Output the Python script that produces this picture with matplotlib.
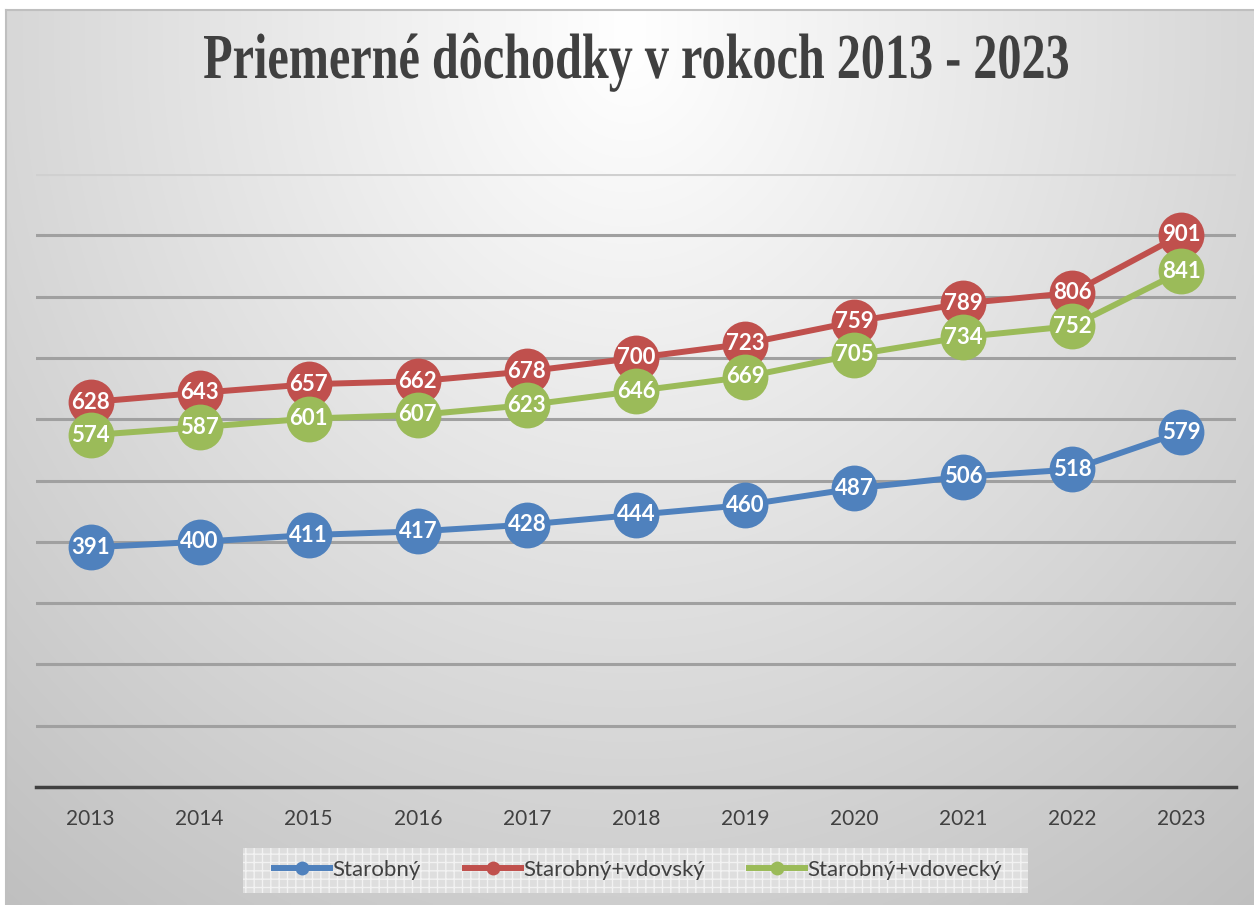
import numpy as np
import matplotlib
matplotlib.use("Agg")
import matplotlib.pyplot as plt
from matplotlib.lines import Line2D
from matplotlib.textpath import TextPath
from matplotlib.font_manager import FontProperties
from matplotlib.patches import PathPatch, Rectangle
from matplotlib.transforms import Affine2D, IdentityTransform

years = ["2013", "2014", "2015", "2016", "2017", "2018", "2019", "2020", "2021", "2022", "2023"]
starobny = [391, 400, 411, 417, 428, 444, 460, 487, 506, 518, 579]
vdovsky = [628, 643, 657, 662, 678, 700, 723, 759, 789, 806, 901]
vdovecky = [574, 587, 601, 607, 623, 646, 669, 705, 734, 752, 841]
series_names = ["Starobný", "Starobný+vdovský", "Starobný+vdovecký"]
title = "Priemerné dôchodky v rokoch 2013 - 2023"

colors = ["#4f81bd", "#c0504d", "#9bbb59"]

W, H = 1254, 905
fig = plt.figure(figsize=(W / 100, H / 100), dpi=100)
fig.patch.set_facecolor("white")

# background gradient area
bx0, by0 = 6, 10
bg = fig.add_axes([bx0 / W, 0, 1 - bx0 / W, 1 - by0 / H])
ny, nx = 300, 400
yy, xx = np.mgrid[0:ny, 0:nx]
dx = (xx / (nx - 1) - 0.5)
dy = (yy / (ny - 1) - 0.05)
g = 255 - np.sqrt((80 * dx) ** 2 + (52 * np.clip(dy, 0, None)) ** 2)
g = np.clip(g, 0, 255) / 255.0
img = np.dstack([g, g, g])
bg.imshow(img, aspect="auto", extent=[0, 1, 1, 0], interpolation="bilinear")
bg.set_xlim(0, 1)
bg.set_ylim(1, 0)
bg.axis("off")
fig.add_artist(Line2D([bx0 / W, bx0 / W], [0, 1 - by0 / H], color="#bfbfbf", lw=1.5))
fig.add_artist(Line2D([bx0 / W, 1], [1 - by0 / H, 1 - by0 / H], color="#bfbfbf", lw=1.5))

# main axes
left, right = 36, 1236
bottom, top = 787, 174
ax = fig.add_axes([left / W, 1 - bottom / H, (right - left) / W, (bottom - top) / H])
ax.set_facecolor("none")
ax.set_xlim(-0.5, len(years) - 0.5)
ax.set_ylim(0, 1000)
for s in ["top", "right", "left"]:
    ax.spines[s].set_visible(False)
ax.spines["bottom"].set_color("#404040")
ax.spines["bottom"].set_linewidth(2.5)
ax.set_yticks([])
for v in range(100, 1001, 100):
    ax.axhline(v, color="#a0a0a0" if v < 1000 else "#d0d0d0", lw=2.2, zorder=0)

x = np.arange(len(years))
ax.set_xticks(x)
ax.set_xticklabels(years, fontsize=15, color="#404040", family="Lato")
ax.tick_params(axis="x", length=0, pad=16)

for vals, c, name in zip([starobny, vdovsky, vdovecky], colors, series_names):
    ax.plot(x, vals, color=c, lw=4.3, marker="o", markersize=33, markeredgewidth=0,
            label=name, zorder=3, clip_on=False)
    for xi, v in zip(x, vals):
        ax.text(xi, v, str(v), ha="center", va="center", color="white", fontsize=16,
                fontweight="bold", family="Lato", zorder=4)

# title as a vertically stretched text path (condensed serif look)
fp = FontProperties(family="Liberation Serif", weight="bold")
tp = TextPath((0, 0), title, size=100, prop=fp)
ext = tp.get_extents()
capP = TextPath((0, 0), "P", size=100, prop=fp).get_extents().ymax
target_w, target_cap = 864, 42
sx = target_w / ext.width
sy = target_cap / capP
tr = (Affine2D().translate(-ext.xmin - ext.width / 2, 0).scale(sx, sy)
      .translate(636, H - 78))
fig.add_artist(PathPatch(tr.transform_path(tp), transform=IdentityTransform(),
                         facecolor="#404040", edgecolor="none"))

# legend box (patterned)
lx0, lx1, ly0, ly1 = 243, 1028, 848, 893
fig.add_artist(Rectangle((lx0 / W, 1 - ly1 / H), (lx1 - lx0) / W, (ly1 - ly0) / H,
                         transform=fig.transFigure, facecolor="#dedede",
                         edgecolor="#f2f2f2", linewidth=0, hatch="++", zorder=1))

handles = [Line2D([0], [0], color=c, lw=4.3, marker="o", markersize=10, markeredgewidth=0)
           for c in colors]
leg = fig.legend(handles, series_names, loc="center", bbox_to_anchor=(638 / W, 1 - 870 / H),
                 ncol=3, frameon=False, handlelength=2.5,
                 columnspacing=2.0, handletextpad=0.1, borderpad=0.3, borderaxespad=0,
                 prop={"family": "Lato", "size": 16})
leg.set_zorder(2)
for t in leg.get_texts():
    t.set_color("#404040")

fig.savefig("out.png", dpi=100)
